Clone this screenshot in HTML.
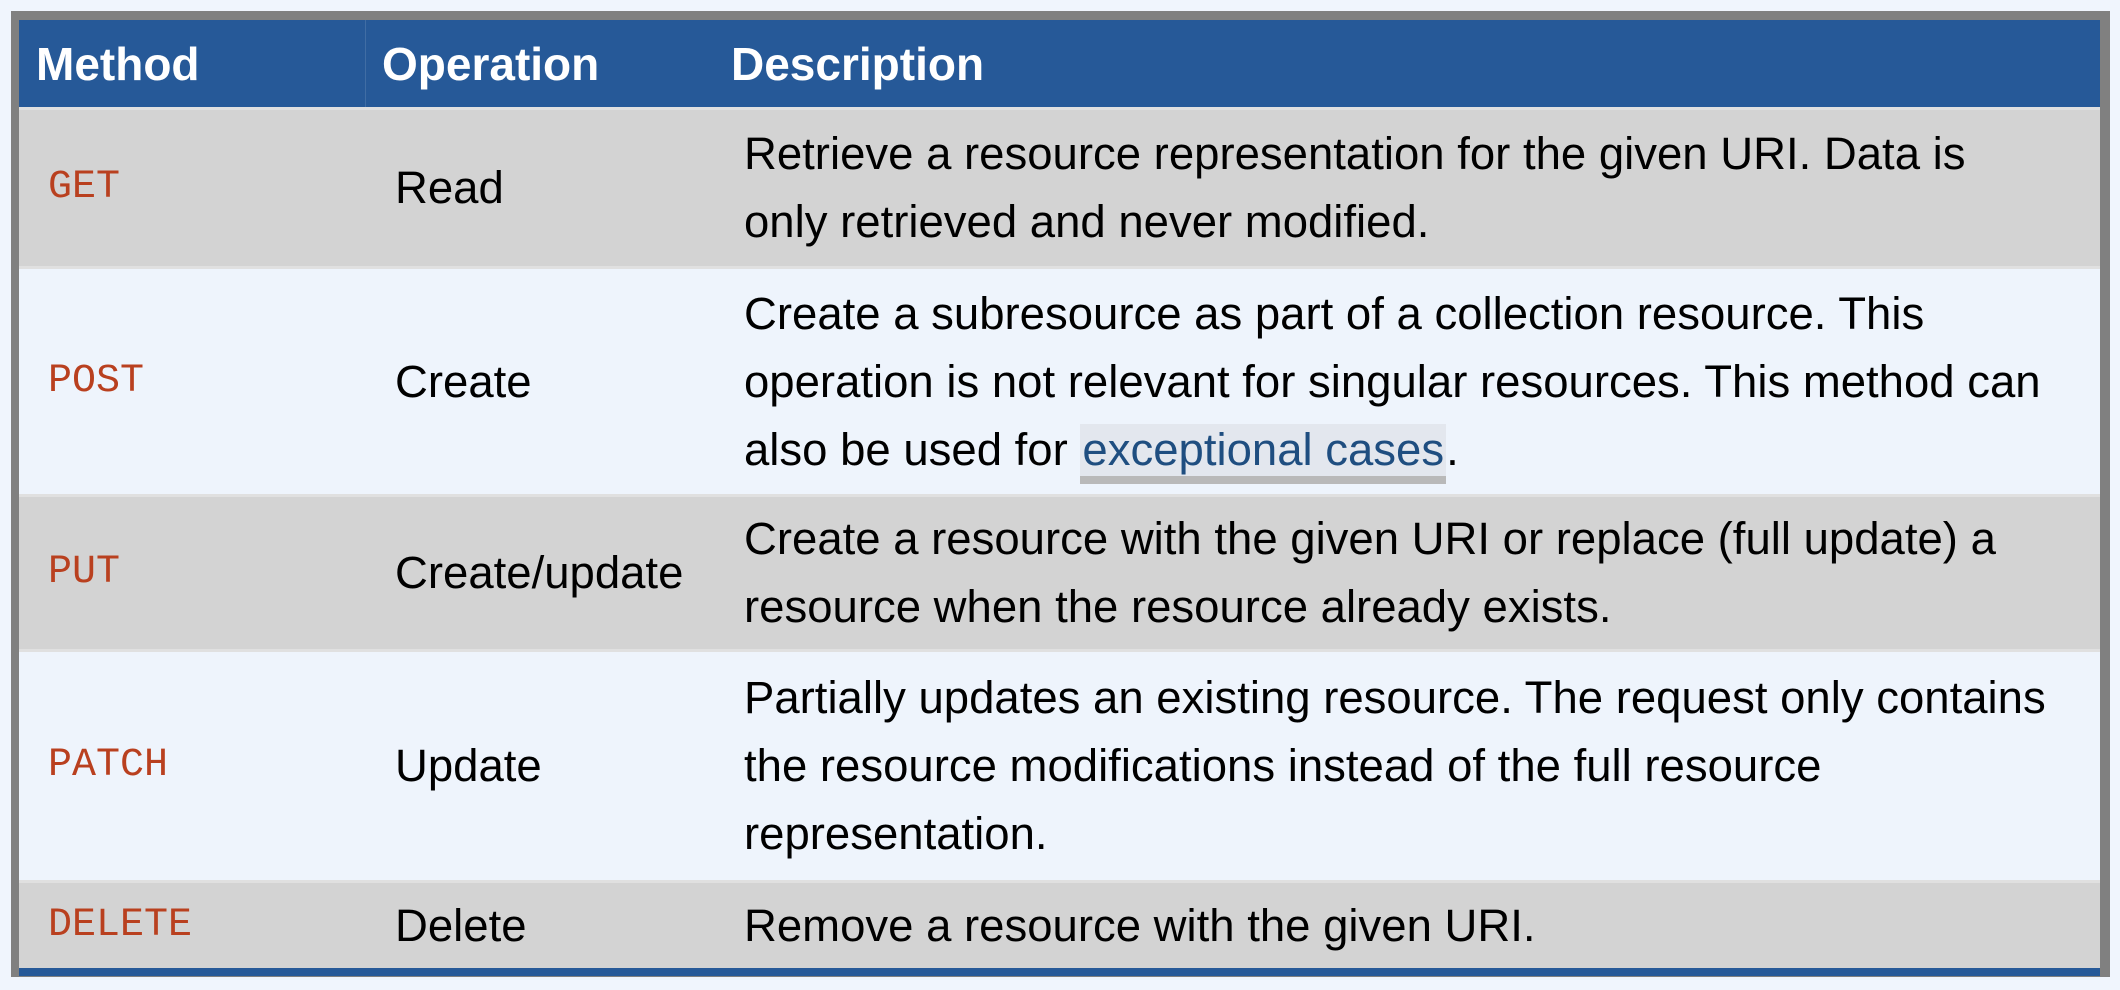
<!DOCTYPE html>
<html><head><meta charset="utf-8"><style>
html,body{margin:0;padding:0;background:#f0f5fd;width:2120px;height:990px;overflow:hidden;font-family:"Liberation Sans",Arial,sans-serif}
#outer{position:absolute;left:11px;top:11px;width:2099px;height:966px;background:#808080}
.row{position:absolute;left:19px;width:2081px;box-sizing:border-box}
.cell{position:absolute;top:0;bottom:0;display:flex;align-items:center;font-size:45.5px;line-height:68px;color:#000;white-space:nowrap}
.m{font-family:"Liberation Mono",monospace;color:#b9401f;font-size:40px;left:29px}
.o{left:376px}
.d{left:725px;right:0}
.hd .cell{color:#fff;font-weight:bold;font-size:46px}
.g{background:#d3d3d3;border-top:3px solid #e0e0e0}
.l{background:#eef4fc;border-top:3px solid #e0e0e0}
.v1{position:absolute;left:346px;top:0;bottom:0;width:1px;background:rgba(255,255,255,0.12)}
a{color:#1f4e80;background:#e3e7ee;text-decoration:none;border-bottom:8px solid #b9b9b9;line-height:52px;display:inline-block;padding:0 2px}
</style></head><body>
<div id="outer"></div>
<div class="row hd" style="top:20px;height:87px;background:#265998">
 <div class="v1"></div>
 <div class="cell" style="left:17px">Method</div>
 <div class="cell" style="left:363px">Operation</div>
 <div class="cell" style="left:712px">Description</div>
</div>
<div class="row g" style="top:107px;height:159px"><div class="cell m">GET</div><div class="cell o">Read</div><div class="cell d"><div>Retrieve a resource representation for the given URI. Data is<br>only retrieved and never modified.</div></div></div>
<div class="row l" style="top:266px;height:228px"><div class="cell m">POST</div><div class="cell o">Create</div><div class="cell d"><div>Create a subresource as part of a collection resource. This<br>operation is not relevant for singular resources. This method can<br>also be used for <a>exceptional cases</a>.</div></div></div>
<div class="row g" style="top:494px;height:155px"><div class="cell m">PUT</div><div class="cell o">Create/update</div><div class="cell d"><div>Create a resource with the given URI or replace (full update) a<br>resource when the resource already exists.</div></div></div>
<div class="row l" style="top:649px;height:231px"><div class="cell m">PATCH</div><div class="cell o">Update</div><div class="cell d"><div>Partially updates an existing resource. The request only contains<br>the resource modifications instead of the full resource<br>representation.</div></div></div>
<div class="row g" style="top:880px;height:88px"><div class="cell m">DELETE</div><div class="cell o">Delete</div><div class="cell d"><div>Remove a resource with the given URI.</div></div></div>
<div class="row" style="top:968px;height:8px;background:#265998"></div>
</body></html>
